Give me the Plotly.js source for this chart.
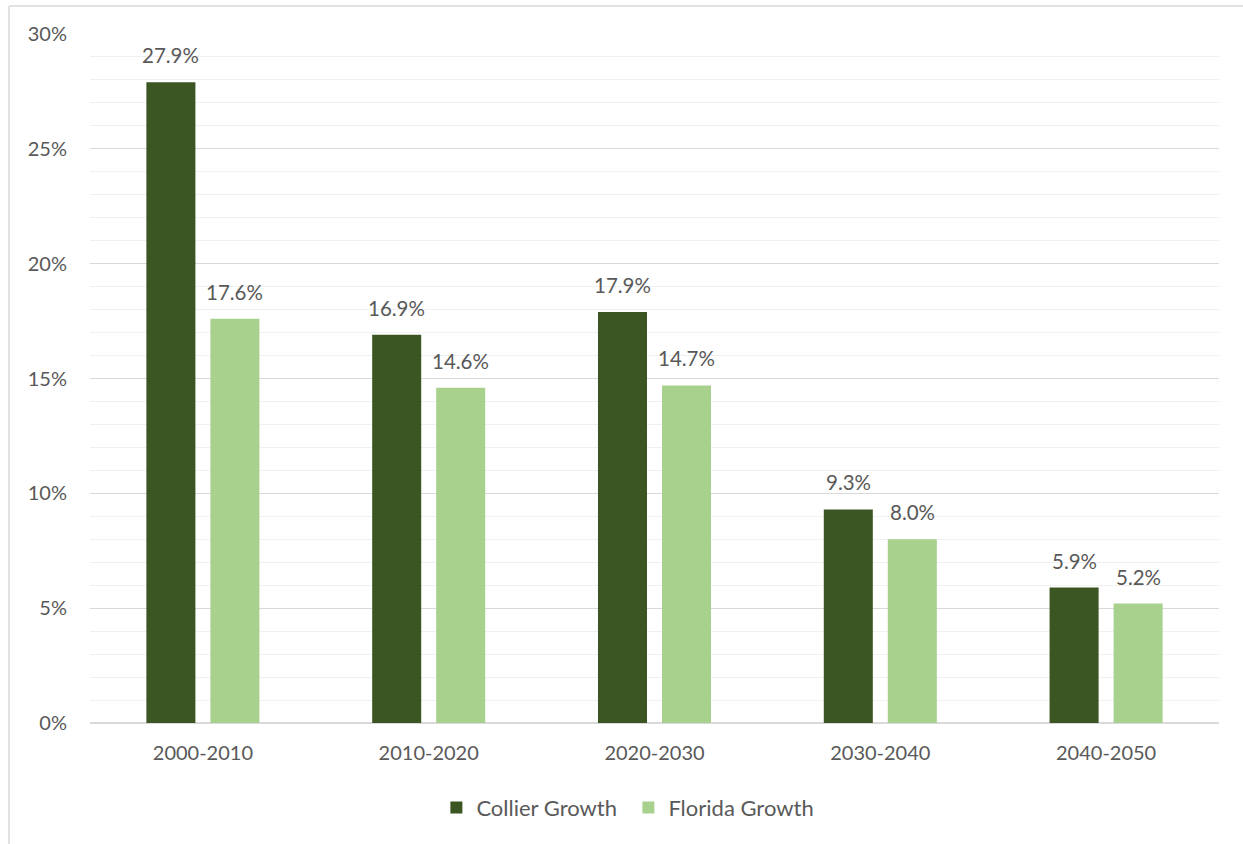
<!DOCTYPE html>
<html>
<head>
<meta charset="utf-8">
<script src="https://cdn.plot.ly/plotly-3.0.1.min.js"></script>
<style>
  html, body { margin: 0; padding: 0; background: #ffffff; }
  #chart { width: 1243px; height: 844px; }
</style>
</head>
<body>
<div id="chart"></div>
<script>
const categories = ["2000-2010", "2010-2020", "2020-2030", "2030-2040", "2040-2050"];
const collierGrowth = [27.9, 16.9, 17.9, 9.3, 5.9];
const floridaGrowth = [17.6, 14.6, 14.7, 8.0, 5.2];
const seriesNames = ["Collier Growth", "Florida Growth"];
const yTicks = [0, 5, 10, 15, 20, 25, 30];

const darkGreen = "#3B5623";
const lightGreen = "#A9D18E";
const textColor = "#595959";
const fontFamily = "Lato, 'Open Sans', sans-serif";

const traces = [
  { type: "bar", name: seriesNames[0], x: categories, y: collierGrowth,
    marker: { color: darkGreen }, hoverinfo: "none" },
  { type: "bar", name: seriesNames[1], x: categories, y: floridaGrowth,
    marker: { color: lightGreen }, hoverinfo: "none" }
];

const annotations = [];
[[collierGrowth, -32], [floridaGrowth, 32]].forEach(([vals, dx]) => {
  vals.forEach((v, i) => {
    annotations.push({
      x: categories[i], y: v, xref: "x", yref: "y",
      text: v.toFixed(1) + "%", showarrow: false,
      xanchor: "center", yanchor: "bottom",
      xshift: dx, yshift: 13,
      font: { family: fontFamily, size: 20.5, color: textColor }
    });
  });
});

const borderColor = "#d9d9d9";
const shapes = [
  { type: "line", xref: "paper", yref: "paper", x0: -0.0717, x1: 1.05, y0: 1.0406, y1: 1.0406,
    line: { color: borderColor, width: 1.5 } },
  { type: "line", xref: "paper", yref: "paper", x0: -0.0717, x1: -0.0717, y0: 1.0406, y1: -0.25,
    line: { color: borderColor, width: 1.5 } }
];

const layout = {
  width: 1243, height: 844,
  margin: { l: 90, r: 24, t: 34, b: 121, pad: 0 },
  paper_bgcolor: "#ffffff", plot_bgcolor: "#ffffff",
  font: { family: fontFamily, size: 20, color: textColor },
  barmode: "group",
  bargap: 0.433,
  bargroupgap: 0.234,
  showlegend: true,
  legend: {
    orientation: "h", x: 0.3068, xanchor: "left", y: -0.123, yanchor: "middle",
    entrywidth: 147, entrywidthmode: "pixels",
    font: { family: fontFamily, size: 22, color: textColor },
    itemclick: false
  },
  xaxis: {
    type: "category",
    showgrid: false, zeroline: false, showline: false,
    ticks: "", ticklabelstandoff: 16,
    tickfont: { family: fontFamily, size: 20, color: textColor },
    fixedrange: true
  },
  yaxis: {
    range: [0, 30],
    tickvals: yTicks,
    ticktext: yTicks.map(t => t + "%"),
    showgrid: true, gridcolor: "#d9d9d9", gridwidth: 1.3,
    minor: { dtick: 1, showgrid: true, gridcolor: "#f0f0f0", gridwidth: 1 },
    zeroline: true, zerolinecolor: "#d9d9d9", zerolinewidth: 1.5,
    showline: false, ticks: "", ticklabelstandoff: 22,
    tickfont: { family: fontFamily, size: 20, color: textColor },
    fixedrange: true
  },
  annotations: annotations,
  shapes: shapes
};

Plotly.newPlot("chart", traces, layout, { staticPlot: true, displayModeBar: false });
</script>
</body>
</html>
